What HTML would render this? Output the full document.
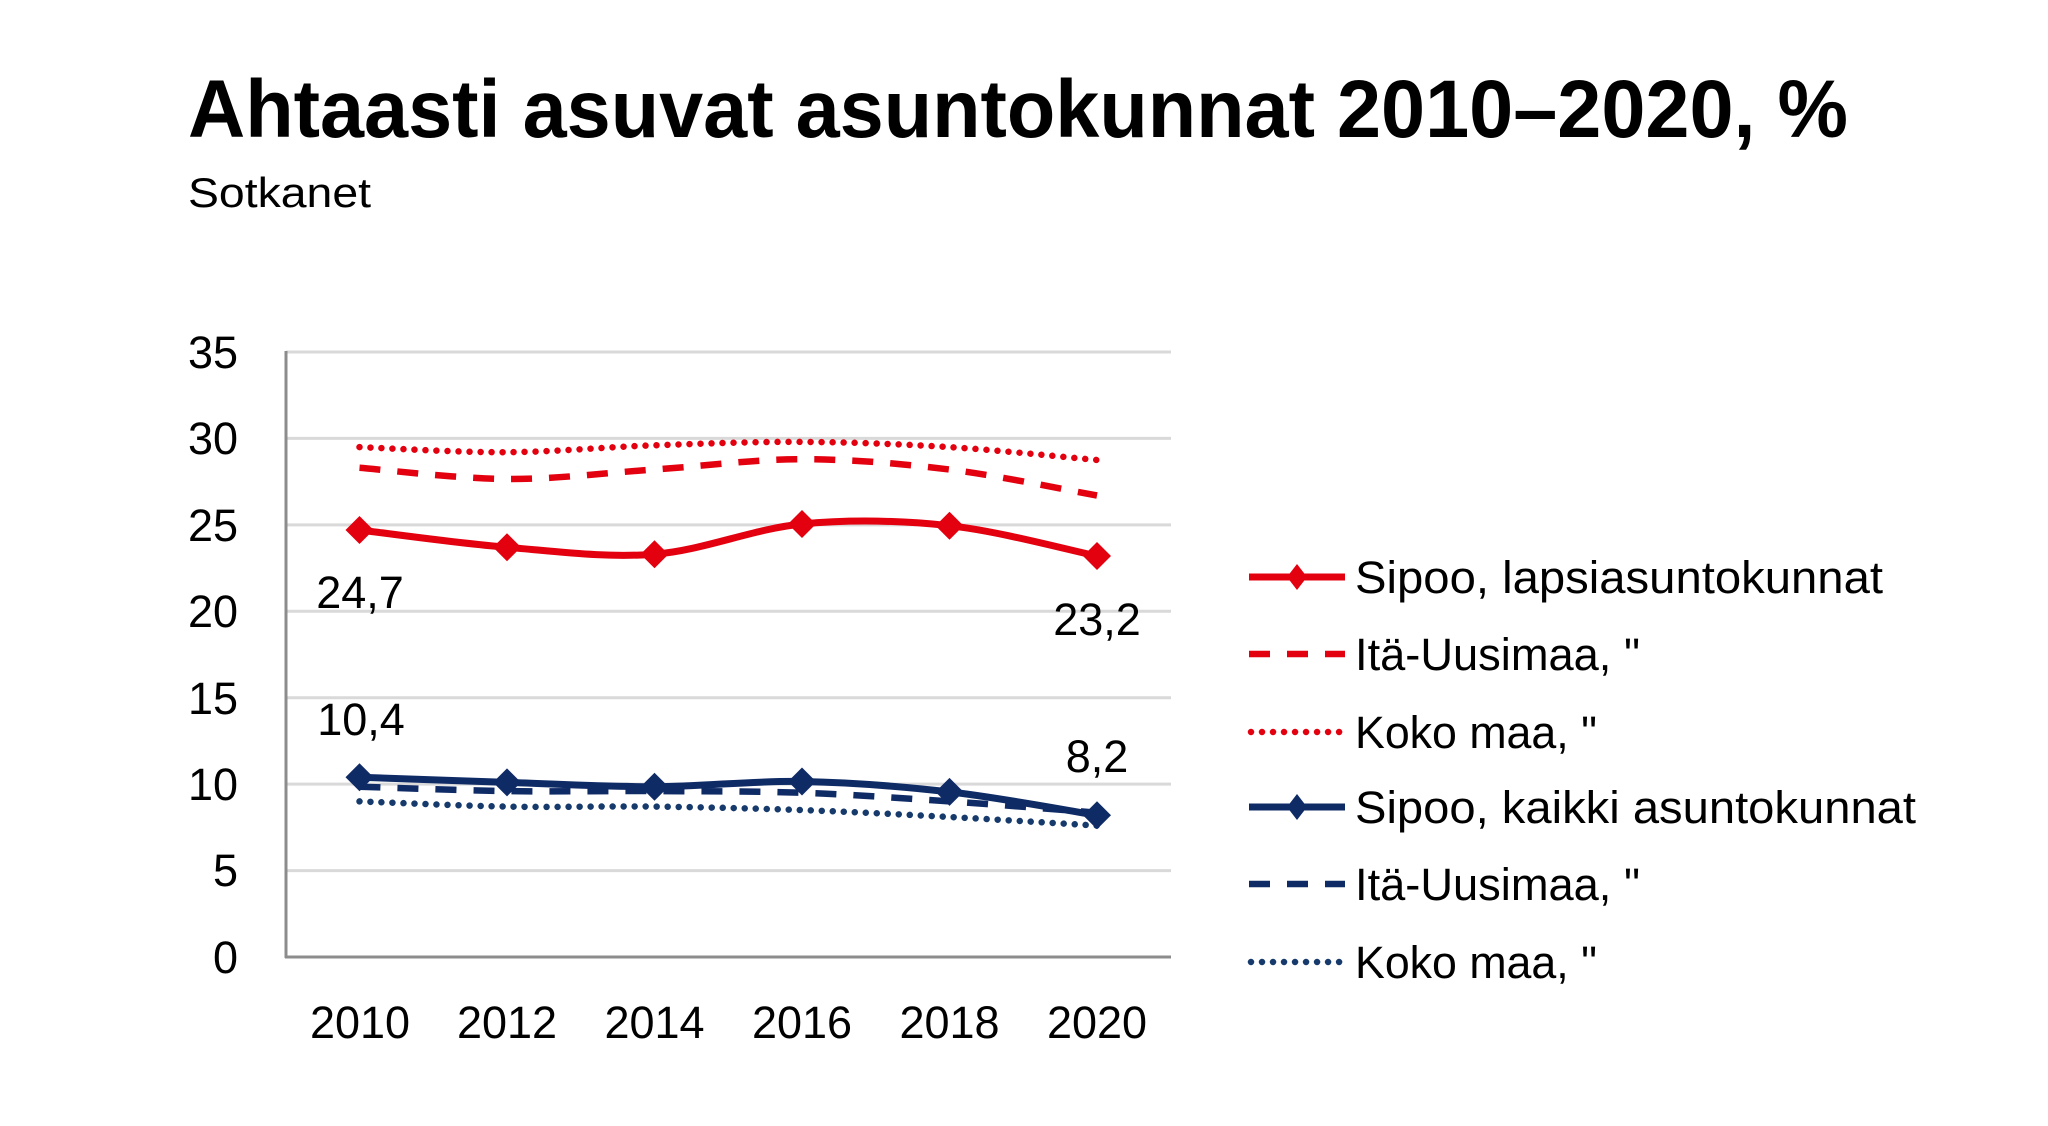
<!DOCTYPE html>
<html>
<head>
<meta charset="utf-8">
<style>
  html, body { margin: 0; padding: 0; background: #ffffff; }
  svg { display: block; }
  text { font-family: "Liberation Sans", "DejaVu Sans", sans-serif; fill: #000; }
</style>
</head>
<body>
<svg width="2048" height="1126" viewBox="0 0 2048 1126" xmlns="http://www.w3.org/2000/svg">
  <rect x="0" y="0" width="2048" height="1126" fill="#ffffff"/>

  <!-- Title -->
  <text x="188" y="137" font-size="82" font-weight="bold" textLength="1660" lengthAdjust="spacingAndGlyphs">Ahtaasti asuvat asuntokunnat 2010–2020, %</text>
  <text x="188" y="207" font-size="42" textLength="183" lengthAdjust="spacingAndGlyphs">Sotkanet</text>

  <!-- Gridlines -->
  <g stroke="#d9d9d9" stroke-width="3">
    <line x1="286" y1="352" x2="1171" y2="352"/>
    <line x1="286" y1="438.4" x2="1171" y2="438.4"/>
    <line x1="286" y1="524.9" x2="1171" y2="524.9"/>
    <line x1="286" y1="611.3" x2="1171" y2="611.3"/>
    <line x1="286" y1="697.7" x2="1171" y2="697.7"/>
    <line x1="286" y1="784.1" x2="1171" y2="784.1"/>
    <line x1="286" y1="870.6" x2="1171" y2="870.6"/>
  </g>
  <!-- Axes -->
  <g stroke="#8c8c8c" stroke-width="3">
    <line x1="286" y1="351" x2="286" y2="958"/>
    <line x1="285" y1="957" x2="1171" y2="957"/>
  </g>

  <!-- Y tick labels -->
  <g font-size="45" text-anchor="end">
    <text x="238" y="368">35</text>
    <text x="238" y="454">30</text>
    <text x="238" y="541">25</text>
    <text x="238" y="627">20</text>
    <text x="238" y="714">15</text>
    <text x="238" y="800">10</text>
    <text x="238" y="886">5</text>
    <text x="238" y="973">0</text>
  </g>

  <!-- X tick labels -->
  <g font-size="45" text-anchor="middle">
    <text x="360" y="1038">2010</text>
    <text x="507" y="1038">2012</text>
    <text x="654.5" y="1038">2014</text>
    <text x="802" y="1038">2016</text>
    <text x="949.5" y="1038">2018</text>
    <text x="1097" y="1038">2020</text>
  </g>

  <!-- Red dotted: Koko maa -->
  <path d="M359.5,447.1 C384.1,448.0 457.8,452.5 507,452.2 C556.2,451.9 605.3,447.0 654.5,445.3 C703.7,443.6 752.8,441.6 802,441.9 C851.2,442.2 900.3,444.1 949.5,447.1 C998.7,450.1 1072.4,457.9 1097,460"
        fill="none" stroke="#e3000f" stroke-width="6.5" stroke-linecap="round" stroke-dasharray="0.01 11"/>
  <!-- Red dashed: Itä-Uusimaa -->
  <path d="M359.5,467.8 C384.1,469.7 457.8,478.7 507,479 C556.2,479.3 605.3,472.8 654.5,469.5 C703.7,466.2 752.8,459.2 802,459.2 C851.2,459.2 900.3,463.5 949.5,469.5 C998.7,475.6 1072.4,491.2 1097,495.5"
        fill="none" stroke="#e3000f" stroke-width="6.5" stroke-dasharray="21 17"/>
  <!-- Red solid: Sipoo lapsiasuntokunnat -->
  <path d="M359.5,530 C384.1,532.9 457.8,543.3 507,547.3 C556.2,551.3 605.3,558.1 654.5,554.2 C703.7,550.3 752.8,528.8 802,524 C851.2,519.3 900.3,520.4 949.5,525.7 C998.7,531.0 1072.4,551.0 1097,556"
        fill="none" stroke="#e3000f" stroke-width="7" stroke-linejoin="round"/>
  <g fill="#e3000f">
    <polygon points="359.5,516 373.5,530 359.5,544 345.5,530"/>
    <polygon points="507,533.3 521,547.3 507,561.3 493,547.3"/>
    <polygon points="654.5,540.2 668.5,554.2 654.5,568.2 640.5,554.2"/>
    <polygon points="802,510 816,524 802,538 788,524"/>
    <polygon points="949.5,511.7 963.5,525.7 949.5,539.7 935.5,525.7"/>
    <polygon points="1097,542 1111,556 1097,570 1083,556"/>
  </g>

  <!-- Blue dotted: Koko maa -->
  <path d="M359.5,801.4 C384.1,802.3 457.8,805.7 507,806.6 C556.2,807.5 605.3,806.0 654.5,806.6 C703.7,807.2 752.8,808.4 802,810.1 C851.2,811.8 900.3,814.4 949.5,817 C998.7,819.6 1072.4,824.2 1097,825.6"
        fill="none" stroke="#163a6b" stroke-width="6.5" stroke-linecap="round" stroke-dasharray="0.01 11"/>
  <!-- Blue dashed: Itä-Uusimaa -->
  <path d="M359.5,786.7 C384.1,787.4 457.8,790.4 507,791.1 C556.2,791.8 605.3,790.8 654.5,791.1 C703.7,791.4 752.8,791.1 802,792.8 C851.2,794.5 900.3,798.1 949.5,801.4 C998.7,804.7 1072.4,810.8 1097,812.7"
        fill="none" stroke="#0f2b66" stroke-width="6.5" stroke-dasharray="21 17"/>
  <!-- Blue solid: Sipoo kaikki -->
  <path d="M359.5,777.2 C384.1,778.1 457.8,780.8 507,782.4 C556.2,784.0 605.3,786.9 654.5,786.7 C703.7,786.6 752.8,780.6 802,781.5 C851.2,782.4 900.3,786.3 949.5,791.9 C998.7,797.5 1072.4,811.4 1097,815.3"
        fill="none" stroke="#0f2b66" stroke-width="7" stroke-linejoin="round"/>
  <g fill="#0f2b66">
    <polygon points="359.5,763.2 373.5,777.2 359.5,791.2 345.5,777.2"/>
    <polygon points="507,768.4 521,782.4 507,796.4 493,782.4"/>
    <polygon points="654.5,772.7 668.5,786.7 654.5,800.7 640.5,786.7"/>
    <polygon points="802,767.5 816,781.5 802,795.5 788,781.5"/>
    <polygon points="949.5,777.9 963.5,791.9 949.5,805.9 935.5,791.9"/>
    <polygon points="1097,801.3 1111,815.3 1097,829.3 1083,815.3"/>
  </g>

  <!-- Data labels -->
  <g font-size="45" text-anchor="middle">
    <text x="360" y="608">24,7</text>
    <text x="1097" y="635">23,2</text>
    <text x="361" y="735">10,4</text>
    <text x="1097" y="772">8,2</text>
  </g>

  <!-- Legend -->
  <g>
    <line x1="1249" y1="577" x2="1345" y2="577" stroke="#e3000f" stroke-width="7"/>
    <polygon points="1297,564 1307,577 1297,590 1287,577" fill="#e3000f"/>
    <text x="1355" y="593" font-size="45" textLength="528" lengthAdjust="spacingAndGlyphs">Sipoo, lapsiasuntokunnat</text>

    <line x1="1249" y1="654" x2="1345" y2="654" stroke="#e3000f" stroke-width="6.5" stroke-dasharray="21 17"/>
    <text x="1355" y="670" font-size="45" textLength="285" lengthAdjust="spacingAndGlyphs">Itä-Uusimaa, "</text>

    <line x1="1251" y1="732" x2="1343" y2="732" stroke="#e3000f" stroke-width="6.5" stroke-linecap="round" stroke-dasharray="0.01 11"/>
    <text x="1355" y="748" font-size="45" textLength="242" lengthAdjust="spacingAndGlyphs">Koko maa, "</text>

    <line x1="1249" y1="807" x2="1345" y2="807" stroke="#0f2b66" stroke-width="7"/>
    <polygon points="1297,794 1307,807 1297,820 1287,807" fill="#0f2b66"/>
    <text x="1355" y="823" font-size="45" textLength="561" lengthAdjust="spacingAndGlyphs">Sipoo, kaikki asuntokunnat</text>

    <line x1="1249" y1="884" x2="1345" y2="884" stroke="#0f2b66" stroke-width="6.5" stroke-dasharray="21 17"/>
    <text x="1355" y="900" font-size="45" textLength="285" lengthAdjust="spacingAndGlyphs">Itä-Uusimaa, "</text>

    <line x1="1251" y1="962" x2="1343" y2="962" stroke="#163a6b" stroke-width="6.5" stroke-linecap="round" stroke-dasharray="0.01 11"/>
    <text x="1355" y="978" font-size="45" textLength="242" lengthAdjust="spacingAndGlyphs">Koko maa, "</text>
  </g>
</svg>
</body>
</html>
